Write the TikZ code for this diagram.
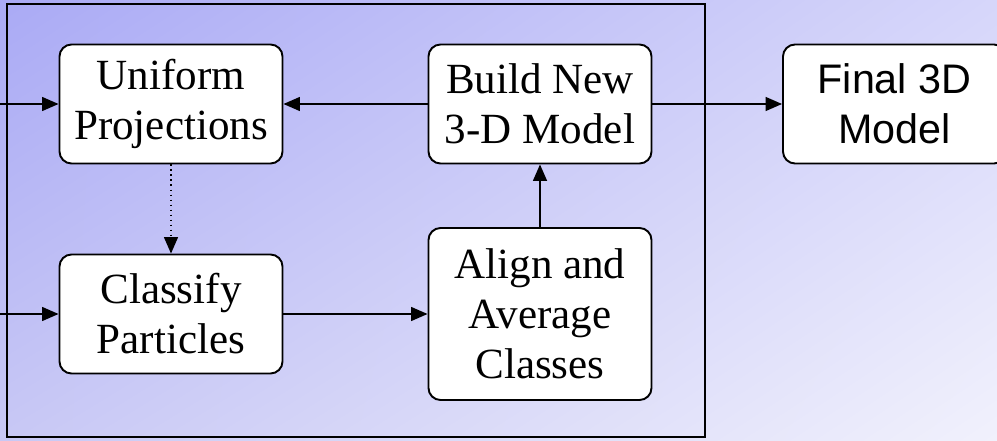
\documentclass[tikz,border=0pt]{standalone}
\usepackage{fontspec}
\setmainfont{Liberation Serif}
\newfontfamily\arialfont{Liberation Sans}
\usetikzlibrary{arrows.meta, shadings}
\definecolor{bgtl}{RGB}{170,170,245}
\definecolor{bgtr}{RGB}{214,214,250}
\definecolor{bgbl}{RGB}{200,200,245}
\definecolor{bgbr}{RGB}{241,241,252}
\tikzset{stage/.style = {draw, fill=white, rounded corners=0.24cm, line width=1.1pt, align=center, inner sep=0, minimum width=4.46cm, minimum height=2.38cm, font=\fontsize{24.5}{28.5}\selectfont}}
\tikzset{flow/.style = {line width=0.85pt, -{Triangle[length=3.3mm, width=2.8mm]}}}

\begin{document}
\begin{tikzpicture}
    \shade [upper left=bgtl, upper right=bgtr, lower left=bgbl, lower right=bgbr] (0, 0) rectangle (19.94, 8.8);
    \useasboundingbox (0, 0) rectangle (19.94, 8.8);
    \draw [line width=1.1pt] (0.14, 0.06) rectangle (14.1, 8.72);

    \node [stage] (uniform) at (3.42, 6.72) {Uniform\\Projections};
    \node [stage] (classify) at (3.42, 2.52) {Classify\\Particles};
    \node [stage] (build) at (10.8, 6.72) {Build New\\3-D Model};
    \node [stage, minimum height=3.44cm] (align) at (10.8, 2.52) {Align and\\Average\\Classes};
    \node [stage, font=\arialfont\fontsize{23.5}{28.5}\selectfont] (final) at (17.89, 6.72) {Final 3D\\Model};

    \coordinate (in1) at (0, 6.72);
    \coordinate (in2) at (0, 2.52);

    \draw [flow] (in1) -- (uniform);
    \draw [flow] (in2) -- (classify);
    \draw [flow] (build) -- (uniform);
    \draw [flow] (build) -- (final);
    \draw [flow] (classify) -- (align.west |- classify);
    \draw [flow] (align) -- (build);
    \draw [flow, dotted] (uniform) -- (classify);
  \end{tikzpicture}
\end{document}
